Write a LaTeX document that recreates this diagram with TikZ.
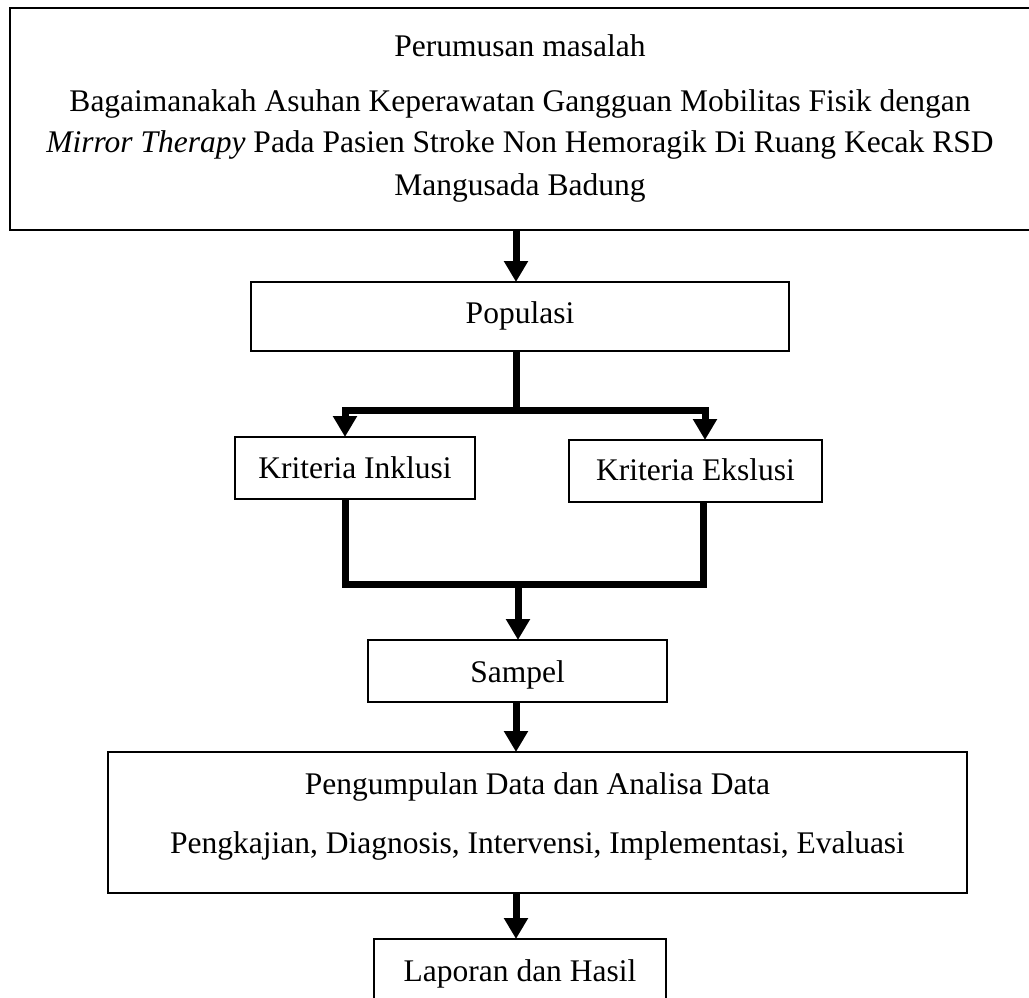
\documentclass[tikz,border=0pt]{standalone}
\usepackage{fontspec}
\setmainfont{Liberation Serif}
\usetikzlibrary{arrows.meta,calc}
\begin{document}
\begin{tikzpicture}[x=1pt,y=-1pt,
  box/.style={draw, line width=2.2pt, inner sep=0pt, outer sep=0pt},
  txt/.style={anchor=base, inner sep=0pt, font=\fontsize{31.5}{42}\selectfont},
  link/.style={line width=7pt, line join=miter},
  arr/.style={line width=7pt, line join=miter, -{Triangle[width=23pt,length=21pt]}}]
\useasboundingbox (0,0) rectangle (1029,998);
% boxes
\node[box, minimum width=1021pt, minimum height=222pt] (prob) at (520.5,119) {};
\node[box, minimum width=538pt, minimum height=69pt] (pop) at (520,316.5) {};
\node[box, minimum width=240pt, minimum height=62pt] (inkl) at (355,468) {};
\node[box, minimum width=253pt, minimum height=62pt] (eks) at (695.5,471) {};
\node[box, minimum width=299pt, minimum height=62pt] (samp) at (517.5,671) {};
\node[box, minimum width=859pt, minimum height=141pt] (peng) at (537.5,822.5) {};
\node[box, minimum width=292pt, minimum height=71pt] (lap) at (520,974.5) {};
% texts
\node[txt] (t1) at (520,57) {Perumusan masalah};
\node[txt] (t2) at (520,112) {Bagaimanakah Asuhan Keperawatan Gangguan Mobilitas Fisik dengan};
\node[txt] (t3) at (520,153) {\textit{Mirror Therapy} Pada Pasien Stroke Non Hemoragik Di Ruang Kecak RSD};
\node[txt] (t4) at (520,195) {Mangusada Badung};
\node[txt] (tpop) at (520,323) {Populasi};
\node[txt] (tinkl) at (355,478) {Kriteria Inklusi};
\node[txt] (teks) at (695.5,480) {Kriteria Ekslusi};
\node[txt] (tsamp) at (517.5,682) {Sampel};
\node[txt] (tpeng1) at (537.5,794) {Pengumpulan Data dan Analisa Data};
\node[txt] (tpeng2) at (537.5,853) {Pengkajian, Diagnosis, Intervensi, Implementasi, Evaluasi};
\node[txt] (tlap) at (520,981) {Laporan dan Hasil};
% connectors
\coordinate (cx) at (516,0);
\coordinate (fork) at (516,410);
\coordinate (fl) at (345,410);
\coordinate (fr) at (705,410);
\coordinate (ml) at (345,584);
\coordinate (mr) at (703,584);
\coordinate (mc) at (518,584);
\draw[arr] (prob.south -| cx) -- (pop.north -| cx);
\draw[link] (pop.south -| cx) -- (fork);
\draw[arr] (fork) -- (fl) -- (inkl.north -| fl);
\draw[arr] (fork) -- (fr) -- (eks.north -| fr);
\draw[link] (inkl.south -| ml) -- (ml) -- (mr) -- (eks.south -| mr);
\draw[arr] (mc) -- (samp.north -| mc);
\draw[arr] (samp.south -| cx) -- (peng.north -| cx);
\draw[arr] (peng.south -| cx) -- (lap.north -| cx);
\end{tikzpicture}
\end{document}
